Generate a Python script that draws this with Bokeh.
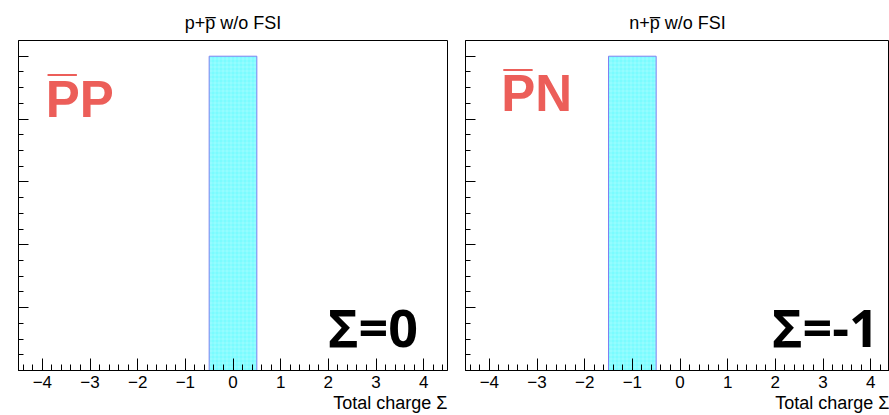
from bokeh.plotting import figure
from bokeh.layouts import row
from bokeh.models import FixedTicker, Label, Title
from bokeh.embed import file_html
from bokeh.resources import INLINE
import numpy as np

# ---- data ----
charge_ticks = [-4, -3, -2, -1, 0, 1, 2, 3, 4]
tick_labels = ["\u22124", "\u22123", "\u22122", "\u22121", "0", "1", "2", "3", "4"]
pp_bins = [0]
pp_counts = [1.0]
pn_bins = [-1]
pn_counts = [1.0]
titles = ["p+p\u0305 w/o FSI", "n+p\u0305 w/o FSI"]
tags = ["P\u0305P", "P\u0305N"]
sigma_labels = ["\u03a3=0", "\u03a3=-1"]
x_title = "Total charge \u03a3"
y_ticks = [0.0, 0.2, 0.4, 0.6, 0.8, 1.0]

RED = "#EC5E59"
FONT = "Liberation Sans"


def panel(title, bins, counts, tag, sigma, width, min_left, min_right, x_end,
          tag_xy, sigma_xy):
    p = figure(width=width, height=415, x_range=(-4.5, x_end), y_range=(0, 1.05),
               output_backend="svg", toolbar_location=None,
               min_border_left=min_left, min_border_right=min_right,
               min_border_top=40, min_border_bottom=45)
    p.title.text = title
    p.title.align = "center"
    p.title.text_font = FONT
    p.title.text_font_size = "18px"
    p.title.text_font_style = "normal"
    p.title.text_color = "black"
    p.title.standoff = 16
    p.grid.visible = False
    p.outline_line_color = "black"
    p.outline_line_alpha = 1.0
    p.outline_line_width = 1
    p.background_fill_color = "white"
    p.border_fill_color = "white"

    p.vbar(x=bins, width=1.0, bottom=0, top=counts,
           fill_color="#7AFCFF", line_color="#8080F0", line_width=1,
           hatch_pattern="+", hatch_color="white", hatch_alpha=0.2,
           hatch_scale=4, hatch_weight=1)

    minors_x = [round(v, 2) for v in np.arange(-4.4, 4.41, 0.2)]
    xa = p.xaxis[0]
    xa.ticker = FixedTicker(ticks=charge_ticks, minor_ticks=minors_x)
    xa.major_label_overrides = {t: l for t, l in zip(charge_ticks, tick_labels)}
    xa.major_tick_in = 12
    xa.major_tick_out = 0
    xa.minor_tick_in = 6
    xa.minor_tick_out = 0
    xa.axis_line_color = "black"
    xa.major_tick_line_color = "black"
    xa.minor_tick_line_color = "black"
    xa.major_label_text_font = FONT
    xa.major_label_text_font_size = "17px"
    xa.major_label_text_color = "black"
    xa.major_label_standoff = 5

    minors_y = [round(v, 3) for v in np.arange(0.05, 1.05, 0.05)]
    ya = p.yaxis[0]
    ya.ticker = FixedTicker(ticks=y_ticks, minor_ticks=minors_y)
    ya.major_tick_in = 10
    ya.major_tick_out = 0
    ya.minor_tick_in = 5
    ya.minor_tick_out = 0
    ya.major_label_overrides = {t: "" for t in y_ticks}
    ya.major_label_text_font_size = "1px"
    ya.major_label_standoff = 0
    ya.axis_line_color = "black"

    p.add_layout(Title(text=x_title, align="right", text_font=FONT,
                       text_font_size="18px", text_font_style="normal",
                       text_color="black", standoff=0), "below")
    p.add_layout(Label(x=tag_xy[0], y=tag_xy[1], text=tag, text_align="left",
                       text_baseline="middle", text_font=FONT,
                       text_font_size="51px", text_font_style="bold",
                       text_color=RED))
    p.add_layout(Label(x=sigma_xy[0], y=sigma_xy[1], text=sigma, text_align="right",
                       text_baseline="middle", text_font="Open Sans",
                       text_font_size="52px", text_font_style="bold",
                       text_color="black"))
    return p


p1 = panel(titles[0], pp_bins, pp_counts, tags[0], sigma_labels[0],
           456, 18, 9, 4.5, (-3.93, 0.863), (3.88, 0.139))
p2 = panel(titles[1], pn_bins, pn_counts, tags[1], sigma_labels[1],
           433, 9, 0, 4.395, (-3.75, 0.881), (4.17, 0.139))

layout = row(p1, p2)
open("out.html", "w").write(file_html(layout, INLINE))
